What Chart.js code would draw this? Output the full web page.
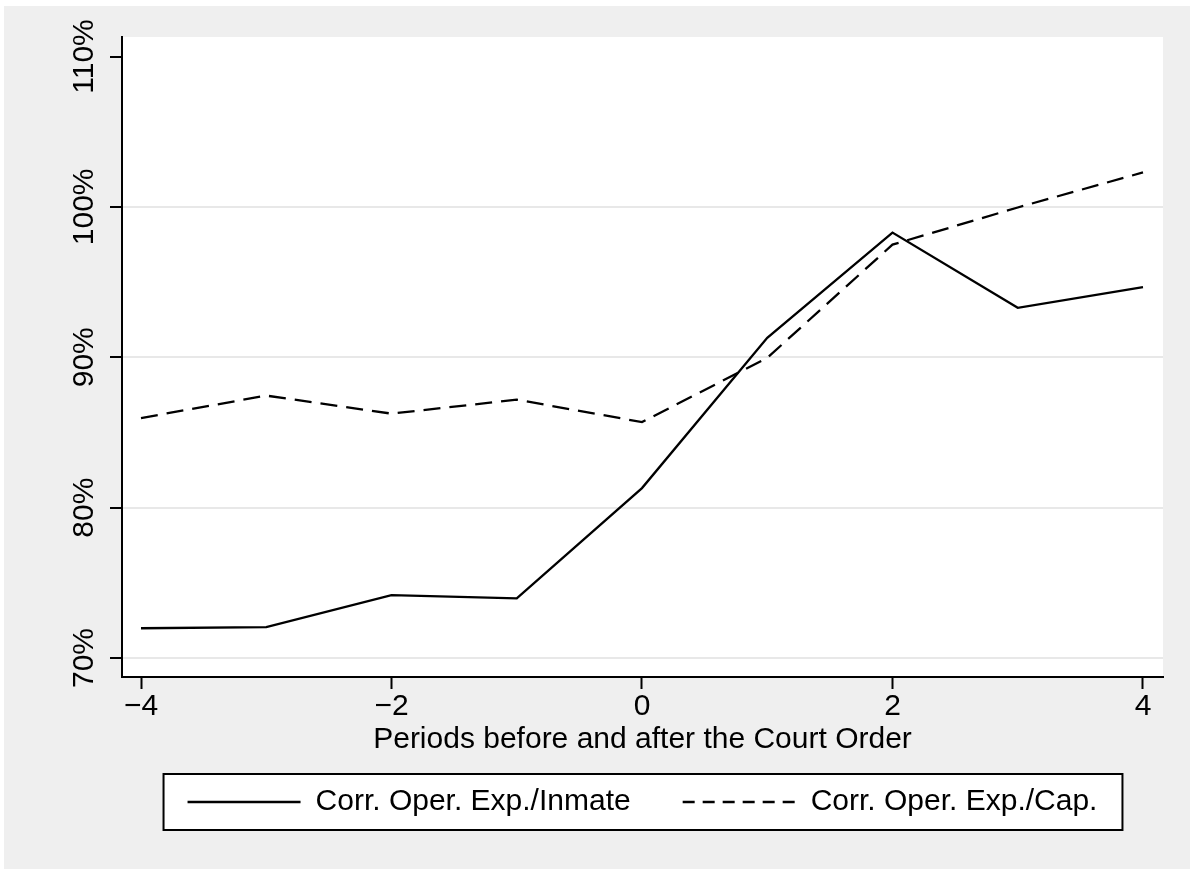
<!DOCTYPE html>
<html>
<head>
<meta charset="utf-8">
<script src="https://cdn.jsdelivr.net/npm/chart.js@4"></script>
<style>
  html, body { margin: 0; padding: 0; background: #ffffff; }
  #wrap { position: absolute; left: 4px; top: 6px; width: 1186px; height: 863px; }
</style>
</head>
<body>
<div id="wrap"><canvas id="chart" width="1186" height="863"></canvas></div>
<script>
// Periods relative to the court order
const periods = [-4, -3, -2, -1, 0, 1, 2, 3, 4];

// Values in percent
const expPerInmate = [71.98, 72.05, 74.18, 73.96, 81.3, 91.29, 98.29, 93.29, 94.67];
const expPerCap = [85.96, 87.45, 86.25, 87.18, 85.69, 89.96, 97.49, 99.96, 102.29];

const seriesLabels = ['Corr. Oper. Exp./Inmate', 'Corr. Oper. Exp./Cap.'];

// Tick positions and labels
const xTicks = [-4, -2, 0, 2, 4];
const xTickLabels = ['\u22124', '\u22122', '0', '2', '4'];
const yTicks = [70, 80, 90, 100, 110];
const yTickLabels = ['70%', '80%', '90%', '100%', '110%'];

const xTitle = 'Periods before and after the Court Order';

const FONT = 'Liberation Sans, Arial, Helvetica, sans-serif';
const FONT_SIZE = 30;
Chart.defaults.font.family = FONT;
Chart.defaults.font.size = FONT_SIZE;
Chart.defaults.color = '#000000';

const PLOT_DASH = [17, 9];
const LEGEND_DASH = [12, 8];

// Stata-like backdrop: gray outer region, white plot region, boxed legend
const backdrop = {
    id: 'backdrop',
    beforeDraw(chart) {
        const { ctx, chartArea: a } = chart;
        ctx.save();
        ctx.fillStyle = '#efefef';
        ctx.fillRect(0, 0, chart.width, chart.height);
        ctx.fillStyle = '#ffffff';
        ctx.fillRect(a.left, a.top, a.right - a.left, a.bottom - a.top);

        const boxes = chart.legend.legendHitBoxes;
        if (boxes && boxes.length) {
            const first = boxes[0];
            const last = boxes[boxes.length - 1];
            const cy = first.top + first.height / 2;
            const x1 = first.left - 24;
            const x2 = last.left + last.width + 25;
            ctx.fillStyle = '#ffffff';
            ctx.fillRect(x1, cy - 28, x2 - x1, 56);
            ctx.strokeStyle = '#000000';
            ctx.lineWidth = 2;
            ctx.strokeRect(x1, cy - 28, x2 - x1, 56);
        }
        ctx.restore();
    }
};

new Chart(document.getElementById('chart'), {
    type: 'line',
    data: {
        datasets: [
            {
                label: seriesLabels[0],
                data: periods.map((p, i) => ({ x: p, y: expPerInmate[i] })),
                borderColor: '#000000',
                backgroundColor: '#000000',
                borderWidth: 2.3,
                pointRadius: 0,
                pointStyle: 'line',
                tension: 0,
                fill: false
            },
            {
                label: seriesLabels[1],
                data: periods.map((p, i) => ({ x: p, y: expPerCap[i] })),
                borderColor: '#000000',
                backgroundColor: '#000000',
                borderWidth: 2.3,
                borderDash: PLOT_DASH,
                pointRadius: 0,
                pointStyle: 'line',
                tension: 0,
                fill: false
            }
        ]
    },
    options: {
        responsive: false,
        animation: false,
        devicePixelRatio: 1,
        events: [],
        layout: {
            padding: { top: 31, right: 27, bottom: 42, left: 0 }
        },
        plugins: {
            tooltip: { enabled: false },
            legend: {
                position: 'bottom',
                fullSize: false,
                labels: {
                    usePointStyle: true,
                    pointStyle: 'line',
                    pointStyleWidth: 113,
                    padding: 52,
                    color: '#000000',
                    font: { size: FONT_SIZE },
                    generateLabels: chart => {
                        const items = Chart.defaults.plugins.legend.labels.generateLabels(chart);
                        items.forEach(item => {
                            const ds = chart.data.datasets[item.datasetIndex];
                            item.lineDash = ds.borderDash ? LEGEND_DASH : [];
                            item.lineWidth = 2.3;
                            item.strokeStyle = '#000000';
                        });
                        return items;
                    }
                }
            }
        },
        scales: {
            x: {
                type: 'linear',
                min: -4.1517,
                max: 4.1597,
                afterBuildTicks: s => { s.ticks = xTicks.map(v => ({ value: v })); },
                afterFit: s => { s.height = 58; },
                ticks: {
                    padding: 0,
                    maxRotation: 0,
                    callback: (v, i) => xTickLabels[i]
                },
                grid: {
                    drawOnChartArea: false,
                    drawTicks: true,
                    tickLength: 12,
                    tickWidth: 2,
                    tickColor: '#000000'
                },
                border: { display: true, color: '#000000', width: 2 },
                title: {
                    display: true,
                    text: xTitle,
                    color: '#000000',
                    font: { size: FONT_SIZE },
                    padding: { top: 0, bottom: -23 }
                }
            },
            y: {
                type: 'linear',
                min: 68.737,
                max: 111.297,
                afterBuildTicks: s => { s.ticks = yTicks.map(v => ({ value: v })); },
                afterFit: s => { s.width = 118; },
                ticks: {
                    minRotation: 90,
                    maxRotation: 90,
                    crossAlign: 'center',
                    padding: -12.9,
                    callback: (v, i) => yTickLabels[i]
                },
                grid: {
                    drawOnChartArea: true,
                    drawTicks: true,
                    tickLength: 12,
                    lineWidth: 2,
                    tickWidth: 2,
                    color: c => (c.tick && c.tick.value === 110 ? 'rgba(0,0,0,0)' : '#e8e8e8'),
                    tickColor: '#000000'
                },
                border: { display: true, color: '#000000', width: 2 }
            }
        }
    },
    plugins: [backdrop]
});
</script>
</body>
</html>
